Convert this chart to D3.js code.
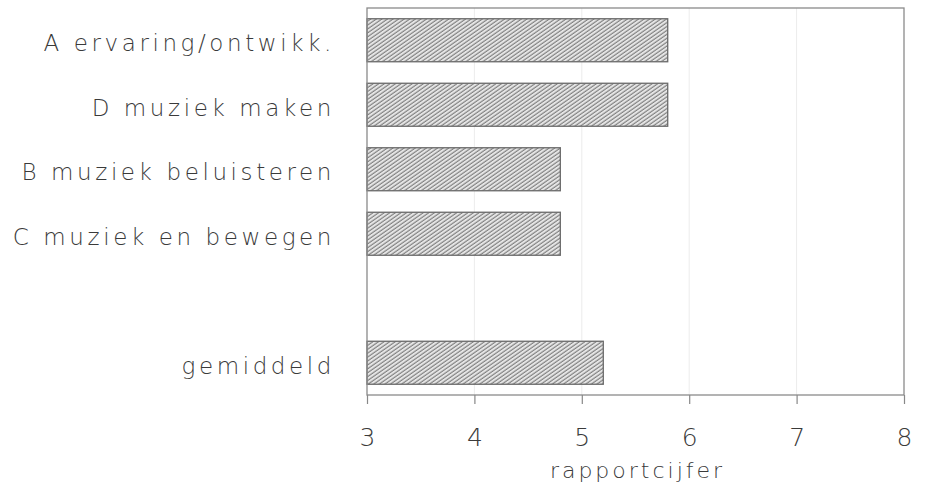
<!DOCTYPE html>
<html lang="nl">
<head>
<meta charset="UTF-8" />
<title>rapportcijfer</title>
<script src="https://d3js.org/d3.v7.min.js"></script>
<style>
  body { margin: 0; background: #fff; }
  svg { display: block; }
  text { font-family: 'DejaVu Sans', sans-serif; fill: #3a3a3a; }
</style>
</head>
<body>
<svg width="928" height="490"></svg>
<script>
// categories (top to bottom), an empty slot separates the mean
const categories = ["A ervaring/ontwikk.", "D muziek maken", "B muziek beluisteren", "C muziek en bewegen", "", "gemiddeld"];
const values = [5.8, 5.8, 4.8, 4.8, null, 5.2];
const ticks = [3, 4, 5, 6, 7, 8];

const svg = d3.select("svg");
const plotLeft = 367, plotRight = 904, plotTop = 8, plotBottom = 395;

const x = d3.scaleLinear().domain([3, 8]).range([plotLeft, plotRight]);
const y = d3.scaleBand().domain(categories.map((c, i) => i))
  .range([plotTop, plotBottom]).paddingInner(1/3).paddingOuter(1/6);

// hatch pattern
const pat = svg.append("defs").append("pattern")
  .attr("id", "hatch")
  .attr("patternUnits", "userSpaceOnUse")
  .attr("width", 3.2).attr("height", 3.2)
  .attr("patternTransform", "rotate(-35)");
pat.append("rect").attr("width", 3.2).attr("height", 3.2).attr("fill", "#e6e6e6");
pat.append("line").attr("x1", 0).attr("x2", 3.2).attr("y1", 1).attr("y2", 1)
  .attr("stroke", "#7a7a7a").attr("stroke-width", 1.1);

// faint grid lines
svg.append("g").selectAll("line").data(ticks.slice(1, -1)).join("line")
  .attr("x1", d => x(d)).attr("x2", d => x(d))
  .attr("y1", plotTop).attr("y2", plotBottom)
  .attr("stroke", "#ececec").attr("stroke-width", 1);

// bars
svg.append("g").selectAll("rect")
  .data(values.map((v, i) => ({ v, i })).filter(d => d.v != null))
  .join("rect")
  .attr("x", x(3))
  .attr("y", d => y(d.i))
  .attr("width", d => x(d.v) - x(3))
  .attr("height", y.bandwidth())
  .attr("fill", "url(#hatch)")
  .attr("stroke", "#6a6a6a").attr("stroke-width", 1.3);

// frame
svg.append("rect")
  .attr("x", plotLeft).attr("y", plotTop)
  .attr("width", plotRight - plotLeft).attr("height", plotBottom - plotTop)
  .attr("fill", "none").attr("stroke", "#8a8a8a").attr("stroke-width", 1.3);

// x axis
const xAxis = d3.axisBottom(x).tickValues(ticks).tickSize(9).tickPadding(24).tickFormat(d3.format("d"));
const gx = svg.append("g").attr("transform", `translate(0,${plotBottom})`).call(xAxis);
gx.select(".domain").remove();
gx.selectAll(".tick line").attr("stroke", "#888").attr("stroke-width", 1.2);
gx.selectAll(".tick text")
  .attr("font-size", 25).attr("font-family", "'DejaVu Sans', sans-serif")
  .attr("fill", "#3a3a3a").style("font-weight", 200);

svg.append("text")
  .attr("x", (plotLeft + plotRight) / 2 + 2).attr("y", 478)
  .attr("text-anchor", "middle")
  .attr("font-size", 22).attr("letter-spacing", 3)
  .style("font-weight", 200)
  .text("rapportcijfer");

// category labels
svg.append("g").selectAll("text")
  .data(categories.map((c, i) => ({ c, i })).filter(d => d.c))
  .join("text")
  .attr("x", 335)
  .attr("y", d => y(d.i) + y.bandwidth() / 2)
  .attr("dy", "0.48em")
  .attr("text-anchor", "end")
  .attr("font-size", 23).attr("letter-spacing", 3.6)
  .style("font-weight", 200)
  .text(d => d.c);
</script>
</body>
</html>
